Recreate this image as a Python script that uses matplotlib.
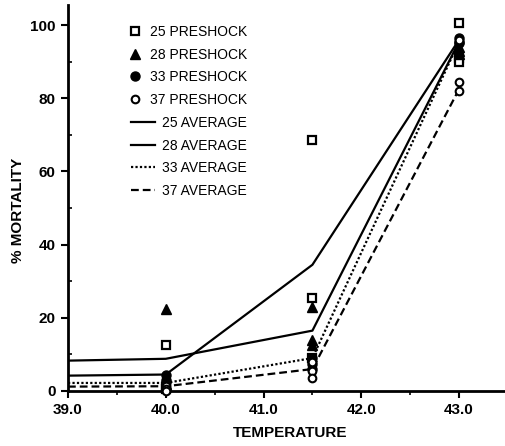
import matplotlib
matplotlib.use("Agg")
import matplotlib.pyplot as plt
from matplotlib.ticker import MultipleLocator, FormatStrFormatter

plt.rcParams['font.family'] = ['Liberation Sans', 'DejaVu Sans']

# ---- data ----
temps = [40.0, 41.5, 43.0]
pre25 = [[12.5, 1.0, 0.5], [68.5, 25.5, 9.0], [100.5, 91.0, 90.0]]
pre28 = [[22.3, 2.0, 1.5], [23.0, 14.0, 12.5], [94.0, 92.0, 93.0]]
pre33 = [[4.5, 3.0, 2.5], [9.0, 7.5, 6.0], [96.5, 95.5, 95.0]]
pre37 = [[1.5, 0.5, 0.0], [5.5, 3.5, 8.0], [96.0, 84.5, 82.0]]

avg_temps = [39.0, 40.0, 41.5, 43.0]
avg25 = [4.2, 4.5, 34.5, 96.0]
avg28 = [8.3, 8.8, 16.5, 95.5]
avg33 = [2.2, 2.2, 9.0, 95.5]
avg37 = [1.2, 1.3, 6.0, 82.5]

xticks = [39.0, 40.0, 41.0, 42.0, 43.0]
yticks = [0, 20, 40, 60, 80, 100]

W, H = 506, 446
fig = plt.figure(figsize=(W / 100, H / 100), dpi=100)
AX_L, AX_B, AX_W, AX_H = 68, 391, 506 - 68, 391 - 5
ax = fig.add_axes([AX_L / W, (H - AX_B) / H, AX_W / W, AX_H / H])

def flat(vals):
    xs, ys = [], []
    for t, v in zip(temps, vals):
        for y in v:
            xs.append(t)
            ys.append(y)
    return xs, ys

k = 'black'
# averages
l25, = ax.plot(avg_temps, avg25, color=k, lw=1.6, ls='-', label='25 AVERAGE')
l28, = ax.plot(avg_temps, avg28, color=k, lw=1.6, ls='-', label='28 AVERAGE')
l33, = ax.plot(avg_temps, avg33, color=k, lw=1.6, ls=(0, (1, 1)), label='33 AVERAGE')
l37, = ax.plot(avg_temps, avg37, color=k, lw=1.6, ls=(0, (3.5, 1.8)), label='37 AVERAGE')

x, y = flat(pre25)
m25, = ax.plot(x, y, ls='none', marker='s', ms=5.5, mfc='white', mec=k, mew=1.6,
               label='25 PRESHOCK', clip_on=False, zorder=5)
x, y = flat(pre28)
m28, = ax.plot(x, y, ls='none', marker='^', ms=7.5, mfc=k, mec=k,
               label='28 PRESHOCK', clip_on=False, zorder=5)
x, y = flat(pre33)
m33, = ax.plot(x, y, ls='none', marker='o', ms=6.5, mfc=k, mec=k,
               label='33 PRESHOCK', clip_on=False, zorder=5)
x, y = flat(pre37)
m37, = ax.plot(x, y, ls='none', marker='o', ms=5.5, mfc='white', mec=k, mew=1.5,
               label='37 PRESHOCK', clip_on=False, zorder=5)

ax.set_xlim(39.0, 43.48)
ax.set_ylim(0, 105.5)
ax.set_xticks(xticks)
ax.set_yticks(yticks)
ax.xaxis.set_major_formatter(FormatStrFormatter('%.1f'))
ax.xaxis.set_minor_locator(MultipleLocator(0.5))
ax.yaxis.set_minor_locator(MultipleLocator(10))

for s in ['top', 'right']:
    ax.spines[s].set_visible(False)
for s in ['left', 'bottom']:
    ax.spines[s].set_linewidth(2.0)

ax.tick_params(which='major', direction='out', length=5, width=1.5, labelsize=11, pad=4)
ax.tick_params(axis='y', which='minor', direction='in', length=3, width=1.2)
ax.tick_params(axis='x', which='minor', direction='out', length=3, width=1.2)
for lab in ax.get_xticklabels() + ax.get_yticklabels():
    lab.set_fontweight('bold')

ax.set_xlabel('TEMPERATURE', fontsize=11, fontweight='bold', va='center')
ax.set_ylabel('% MORTALITY', fontsize=11, fontweight='bold', va='center')
ax.xaxis.set_label_coords((290 - AX_L) / AX_W, -(433 - AX_B) / AX_H)
ax.yaxis.set_label_coords(-(AX_L - 18) / AX_W, (AX_B - 210) / AX_H)

leg1 = ax.legend(handles=[m25, m28, m33, m37], frameon=False, loc='upper left',
                 bbox_to_anchor=(128 / W, 1 - 25 / H), bbox_transform=fig.transFigure,
                 fontsize=10, handlelength=1.0, handletextpad=0.6, labelspacing=0.62,
                 borderpad=0, borderaxespad=0, numpoints=1)
ax.add_artist(leg1)
leg2 = ax.legend(handles=[l25, l28, l33, l37], frameon=False, loc='upper left',
                 bbox_to_anchor=(131 / W, 1 - 116 / H), bbox_transform=fig.transFigure,
                 fontsize=10, handlelength=1.75, handletextpad=0.45, labelspacing=0.62,
                 borderpad=0, borderaxespad=0)

fig.savefig('out.png', dpi=100)
